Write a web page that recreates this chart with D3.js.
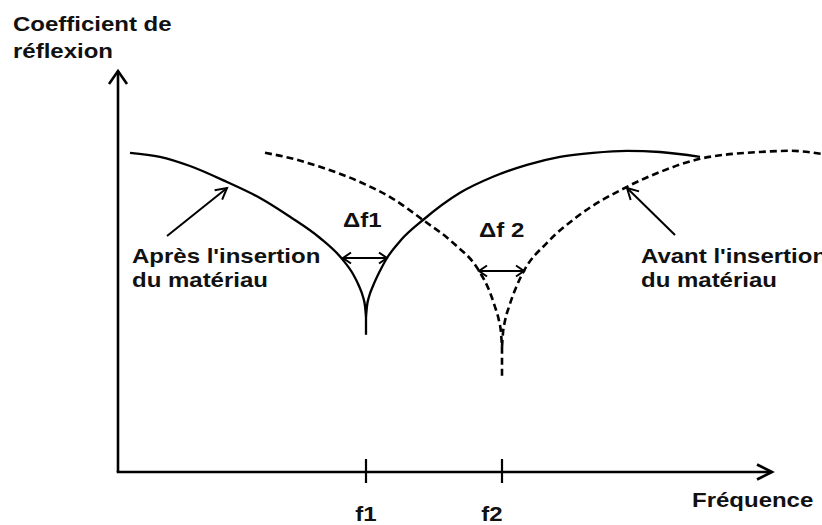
<!DOCTYPE html>
<html>
<head>
<meta charset="utf-8">
<script src="https://cdn.jsdelivr.net/npm/d3@7"></script>
<style>
  html, body { margin: 0; padding: 0; background: #fff; }
  svg { display: block; }
  text { font-family: "Liberation Sans", Arial, sans-serif; font-weight: bold; font-size: 20px; fill: #111; }
</style>
</head>
<body>
<svg id="chart" width="822" height="525"></svg>
<script>
// Frequency axis ticks (arbitrary frequency units)
const tickValues = [2.48, 3.84];
const tickLabels = ["f1", "f2"];

// Reflection coefficient after inserting the material (solid curve)
const apresLeft  = [[0.12,0.798],[0.42,0.788],[0.72,0.765],[1.09,0.725],[1.42,0.685],[1.72,0.638],[2.02,0.585],[2.25,0.530],[2.35,0.495],[2.41,0.465],[2.45,0.438],[2.47,0.415],[2.48,0.388]];
const apresStem  = [[2.48,0.388],[2.48,0.343]];
const apresRight = [[2.48,0.388],[2.49,0.415],[2.51,0.438],[2.55,0.465],[2.61,0.498],[2.69,0.535],[2.83,0.580],[3.05,0.630],[3.42,0.698],[3.75,0.738],[4.09,0.768],[4.42,0.788],[4.75,0.798],[5.09,0.803],[5.42,0.800],[5.82,0.788]];

// Reflection coefficient before inserting the material (dashed curve)
const avantLeft  = [[1.47,0.798],[1.72,0.785],[2.02,0.763],[2.42,0.725],[2.75,0.683],[3.05,0.630],[3.35,0.573],[3.61,0.503],[3.71,0.455],[3.77,0.413],[3.81,0.378],[3.83,0.348],[3.84,0.313]];
const avantStem  = [[3.84,0.313],[3.84,0.238]];
const avantRight = [[3.84,0.313],[3.85,0.348],[3.87,0.378],[3.91,0.413],[3.97,0.455],[4.06,0.503],[4.29,0.573],[4.59,0.638],[5.09,0.713],[5.42,0.750],[5.82,0.783],[6.42,0.800],[6.72,0.803],[7.04,0.795]];

// Frequency shifts between the two branches of each dip: [from, to, level]
const deltaNames = ["\u0394f1", "\u0394f 2"];
const deltaSpans = [[2.25, 2.69, 0.535], [3.61, 4.06, 0.5025]];
const deltaLabelPos = [[2.25, 0.6125], [3.61, 0.5875]];

// Pointer arrows to each curve: [from, to]
const pointerArrows = [[[0.49, 0.590], [1.09, 0.710]], [[5.57, 0.5925], [5.09, 0.710]]];
const curveNames = [["Après l'insertion", "du matériau"], ["Avant l'insertion", "du matériau"]];
const curveLabelPos = [[0.14, 0.5225], [5.23, 0.5225]];

const svg = d3.select("#chart");
const W = 822, H = 525;
svg.append("rect").attr("width", W).attr("height", H).attr("fill", "#fff");

const x = d3.scaleLinear().domain([0, 6.54]).range([118, 772]);
const y = d3.scaleLinear().domain([0, 1]).range([472, 72]);

const line = d3.line().x(d => x(d[0])).y(d => y(d[1])).curve(d3.curveMonotoneX);
const straight = d3.line().x(d => x(d[0])).y(d => y(d[1]));

// Text stretched horizontally like the figure lettering
function label(px, py, str, anchor) {
  return svg.append("text")
    .attr("transform", `translate(${px},${py}) scale(1.2,1)`)
    .attr("text-anchor", anchor || "start")
    .text(str);
}

// Open chevron arrowhead at (tx,ty) pointing away from (fx,fy)
function head(fx, fy, tx, ty, len, half, sw) {
  const a = Math.atan2(ty - fy, tx - fx);
  const c = Math.cos(a), s = Math.sin(a);
  const p1 = [tx - len * c + half * s, ty - len * s - half * c];
  const p2 = [tx - len * c - half * s, ty - len * s + half * c];
  svg.append("path")
    .attr("d", `M${p1[0]},${p1[1]}L${tx},${ty}L${p2[0]},${p2[1]}`)
    .attr("fill", "none").attr("stroke", "#000").attr("stroke-width", sw)
    .attr("stroke-linejoin", "miter").attr("stroke-linecap", "butt");
}

// Axes
const axisG = svg.append("g").attr("stroke", "#000").attr("stroke-width", 2.6).attr("fill", "none");
axisG.append("line").attr("x1", x(0)).attr("y1", y(0)).attr("x2", x(0)).attr("y2", y(1) - 1);
axisG.append("line").attr("x1", x(0) - 1.3).attr("y1", y(0)).attr("x2", x(6.54)).attr("y2", y(0));
head(x(0), y(0), x(0), y(1) - 1, 13, 9, 2.6);
head(x(0), y(0), x(6.54), y(0), 15, 7.5, 2.6);

// Frequency ticks crossing the axis
tickValues.forEach((v, i) => {
  svg.append("line")
    .attr("x1", x(v)).attr("x2", x(v))
    .attr("y1", y(0) - 13).attr("y2", y(0) + 11)
    .attr("stroke", "#000").attr("stroke-width", 2.2);
  label(x(v) - (i === 1 ? 10 : 0), y(0) + 49, tickLabels[i], "middle");
});

// Axis titles
label(13, 31, "Coefficient de");
label(13, 58, "réflexion");
label(692, 507, "Fréquence");

// Curves
const curveG = svg.append("g").attr("fill", "none").attr("stroke", "#000");
[apresLeft, apresRight].forEach(d => curveG.append("path").attr("d", line(d)).attr("stroke-width", 2.3));
curveG.append("path").attr("d", straight(apresStem)).attr("stroke-width", 2.3);
[avantLeft, avantRight].forEach(d => curveG.append("path").attr("d", line(d))
  .attr("stroke-width", 2.6).attr("stroke-dasharray", "7,4"));
curveG.append("path").attr("d", straight(avantStem)).attr("stroke-width", 2.6).attr("stroke-dasharray", "7,4");

// Delta-f double arrows and labels
deltaSpans.forEach((d, i) => {
  const x1 = x(d[0]), x2 = x(d[1]), yy = y(d[2]);
  svg.append("line").attr("x1", x1).attr("x2", x2).attr("y1", yy).attr("y2", yy)
    .attr("stroke", "#000").attr("stroke-width", 2);
  head(x2, yy, x1, yy, 8, 5.5, 2);
  head(x1, yy, x2, yy, 8, 5.5, 2);
  label(x(deltaLabelPos[i][0]), y(deltaLabelPos[i][1]), deltaNames[i]);
});

// Pointer arrows and curve names
pointerArrows.forEach((a, i) => {
  const fx = x(a[0][0]), fy = y(a[0][1]), tx = x(a[1][0]), ty = y(a[1][1]);
  svg.append("line").attr("x1", fx).attr("y1", fy).attr("x2", tx).attr("y2", ty)
    .attr("stroke", "#000").attr("stroke-width", 2);
  head(fx, fy, tx, ty, 11, 6, 2);
  const lx = x(curveLabelPos[i][0]), ly = y(curveLabelPos[i][1]);
  label(lx, ly, curveNames[i][0]);
  label(lx, ly + 24, curveNames[i][1]);
});
</script>
</body>
</html>
